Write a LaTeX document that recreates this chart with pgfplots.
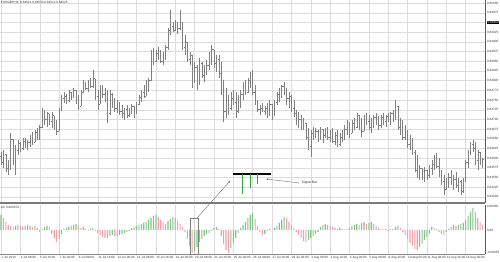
\documentclass[border=0pt]{standalone}
\usepackage{pgfplots}
\pgfplotsset{compat=1.18}
\usepackage{pgfplotstable}
\usetikzlibrary{arrows.meta}
\usepackage{fontspec}
\setmainfont{Liberation Sans}
\definecolor{barcol}{RGB}{128,128,128}
\definecolor{gridcol}{RGB}{220,220,220}
\definecolor{axcol}{RGB}{90,90,90}
\definecolor{acgreen}{RGB}{130,195,135}
\definecolor{acred}{RGB}{240,160,170}
\definecolor{siggreen}{RGB}{40,170,60}
\pgfdeclareplotmark{otick}{\pgfpathmoveto{\pgfpoint{-0.9pt}{0pt}}\pgfpathlineto{\pgfpoint{0pt}{0pt}}\pgfusepathqstroke}
\pgfdeclareplotmark{ctick}{\pgfpathmoveto{\pgfpoint{0pt}{0pt}}\pgfpathlineto{\pgfpoint{0.9pt}{0pt}}\pgfusepathqstroke}
% OHLC in pips above 0.84500
\pgfplotstableread{
i H L O C
0 11.6 8.2 10.5 9.0
1 12.1 7.5 9.0 11.0
2 10.8 6.4 11.0 7.5
3 9.5 5.7 7.5 8.5
4 16.5 6.9 8.5 15.0
5 14.7 8.2 15.0 9.5
6 13.4 5.7 9.5 12.0
7 14.7 10.8 12.0 13.8
8 14.2 11.6 13.8 12.5
9 15.2 12.1 12.5 14.5
10 15.2 12.6 14.5 13.5
11 14.7 12.1 13.5 14.0
12 16.0 12.9 14.0 15.5
13 16.7 13.4 15.5 14.2
14 17.3 14.2 14.2 16.8
15 17.8 14.7 16.8 15.5
16 18.6 14.7 15.5 18.0
17 22.9 17.8 18.0 22.0
18 22.4 18.6 22.0 20.0
19 21.9 18.0 20.0 21.5
20 21.1 18.6 21.5 19.5
21 21.9 17.8 19.5 21.0
22 20.3 17.3 21.0 18.0
23 19.8 16.0 18.0 17.0
24 22.9 18.6 17.0 22.5
25 26.3 22.4 22.5 25.5
26 27.1 24.2 25.5 26.0
27 26.5 24.0 26.0 25.0
28 27.6 24.5 25.0 27.0
29 27.1 25.0 27.0 25.8
30 28.1 25.5 25.8 27.5
31 27.6 24.0 27.5 25.0
32 26.3 22.4 25.0 23.5
33 27.6 23.7 23.5 27.0
34 30.2 27.1 27.0 29.5
35 29.6 27.6 29.5 28.0
36 30.2 27.1 28.0 29.8
37 30.7 28.1 29.8 28.5
38 32.7 28.1 28.5 30.5
39 30.2 25.0 30.5 26.0
40 27.6 22.4 26.0 24.0
41 28.9 25.0 24.0 28.0
42 28.9 25.5 28.0 26.5
43 28.1 24.5 26.5 27.5
44 26.3 19.0 27.5 21.5
45 27.6 21.1 21.5 26.5
46 26.8 22.9 26.5 24.0
47 25.5 21.9 24.0 23.0
48 25.0 21.6 23.0 24.5
49 24.5 21.1 24.5 22.0
50 23.7 20.3 22.0 21.5
51 22.9 19.8 21.5 22.5
52 23.7 20.3 22.5 21.0
53 22.9 20.9 21.0 22.0
54 24.0 21.4 22.0 23.5
55 23.5 20.3 23.5 21.5
56 24.5 21.9 21.5 24.0
57 26.3 23.7 24.0 25.8
58 27.6 24.5 25.8 27.0
59 28.9 25.5 27.0 26.0
60 30.2 26.3 26.0 29.5
61 30.7 27.1 29.5 30.0
62 37.9 30.2 30.0 37.0
63 38.4 34.0 37.0 35.0
64 37.9 34.8 35.0 37.0
65 38.7 35.3 37.0 36.0
66 37.9 34.5 36.0 35.0
67 37.4 34.0 35.0 36.5
68 39.2 35.3 36.5 38.5
69 43.6 37.9 38.5 43.0
70 48.2 41.8 43.0 44.0
71 45.1 42.5 44.0 43.0
72 45.6 43.1 43.0 45.0
73 45.1 42.0 45.0 43.5
74 48.2 43.1 43.5 45.0
75 43.6 37.9 45.0 38.5
76 41.8 36.6 38.5 40.0
77 37.9 34.8 40.0 35.5
78 37.4 34.0 35.5 36.5
79 35.3 28.1 36.5 29.5
80 34.8 30.2 29.5 33.5
81 34.0 27.6 33.5 29.0
82 35.8 31.5 29.0 34.5
83 34.8 30.7 34.5 31.5
84 34.0 29.6 31.5 33.0
85 35.3 31.5 33.0 34.0
86 37.4 32.7 34.0 36.5
87 39.2 34.0 36.5 38.0
88 37.9 33.3 38.0 34.5
89 36.6 32.2 34.5 35.5
90 36.6 30.7 35.5 32.0
91 34.8 26.3 32.0 28.0
92 30.2 19.3 28.0 22.0
93 28.1 20.3 22.0 26.0
94 26.3 21.1 26.0 23.0
95 27.1 22.4 23.0 25.5
96 27.6 23.7 25.5 24.5
97 27.1 20.3 24.5 22.0
98 26.3 21.9 22.0 25.0
99 27.6 22.9 25.0 26.5
100 29.6 25.0 26.5 28.5
101 30.2 26.3 28.5 27.0
102 30.7 27.1 27.0 30.0
103 32.2 28.1 30.0 31.0
104 32.7 26.3 31.0 27.0
105 28.9 23.7 27.0 24.5
106 25.0 21.9 24.5 22.5
107 23.7 21.1 22.5 23.0
108 24.2 21.9 23.0 22.2
109 23.5 21.1 22.2 22.8
110 24.2 20.3 22.8 21.5
111 25.0 20.9 21.5 24.0
112 23.7 19.8 24.0 21.0
113 25.0 21.9 21.0 24.5
114 27.1 23.7 24.5 26.5
115 28.1 24.5 26.5 27.5
116 28.9 25.5 27.5 28.5
117 29.6 26.3 28.5 27.0
118 28.1 23.7 27.0 25.5
119 27.1 22.9 25.5 26.0
120 26.3 21.9 26.0 23.0
121 25.0 20.6 23.0 21.5
122 22.4 18.6 21.5 19.5
123 21.9 17.8 19.5 20.0
124 21.1 17.3 20.0 18.0
125 20.3 17.3 18.0 19.0
126 19.0 14.7 19.0 15.5
127 17.8 12.1 15.5 13.0
128 17.3 10.3 13.0 16.5
129 18.0 14.7 16.5 15.5
130 17.8 15.2 15.5 17.0
131 17.3 14.2 17.0 15.0
132 18.0 14.7 15.0 17.5
133 17.3 13.9 17.5 16.0
134 17.8 15.2 16.0 16.8
135 18.0 14.7 16.8 15.5
136 17.3 14.2 15.5 16.5
137 17.8 13.9 16.5 14.5
138 16.7 13.4 14.5 15.8
139 17.3 12.9 15.8 13.5
140 16.5 13.4 13.5 15.5
141 17.3 14.2 15.5 16.8
142 18.6 14.7 16.8 17.5
143 19.8 16.0 17.5 19.0
144 19.3 15.2 19.0 16.5
145 19.8 16.7 16.5 19.0
146 20.3 17.3 19.0 18.0
147 21.6 17.8 18.0 21.0
148 21.1 17.3 21.0 19.0
149 20.3 15.5 19.0 17.0
150 21.1 17.3 17.0 20.5
151 21.6 18.6 20.5 19.5
152 21.1 17.3 19.5 18.0
153 20.3 16.5 18.0 19.5
154 21.1 17.8 19.5 20.5
155 21.6 18.6 20.5 19.0
156 20.9 17.3 19.0 18.5
157 21.1 17.8 18.5 20.5
158 21.6 18.6 20.5 19.5
159 21.1 18.0 19.5 20.8
160 21.6 19.3 20.8 20.0
161 21.9 18.6 20.0 21.5
162 22.4 19.3 21.5 21.0
163 25.0 19.8 21.0 23.5
164 22.4 17.3 23.5 18.0
165 20.3 16.0 18.0 19.0
166 19.8 14.7 19.0 15.5
167 18.6 14.7 15.5 17.0
168 17.3 12.6 17.0 13.5
169 16.0 12.1 13.5 14.5
170 15.2 10.8 14.5 11.5
171 12.1 6.4 11.5 7.0
172 10.8 4.9 7.0 6.0
173 8.2 4.4 6.0 7.5
174 7.5 4.4 7.5 5.0
175 7.7 3.8 5.0 7.0
176 6.9 4.4 7.0 5.5
177 8.2 4.9 5.5 7.5
178 9.5 5.7 7.5 8.5
179 10.8 6.9 8.5 10.0
180 11.3 7.5 10.0 8.0
181 10.0 5.1 8.0 6.0
182 6.9 3.1 6.0 4.0
183 5.7 0.5 4.0 2.0
184 4.9 1.8 2.0 4.0
185 6.2 2.3 4.0 5.0
186 6.9 3.1 5.0 3.5
187 5.7 1.8 3.5 4.5
188 6.4 2.3 4.5 3.0
189 4.9 1.3 3.0 4.0
190 4.4 0.5 4.0 1.5
191 4.9 1.0 1.5 4.0
192 9.5 4.4 4.0 9.0
193 12.1 7.5 9.0 11.5
194 14.2 10.8 11.5 13.5
195 14.7 11.6 13.5 12.5
196 14.2 8.2 12.5 9.5
197 12.1 6.9 9.5 11.5
198 10.8 8.2 11.5 9.0
199 10.0 7.5 9.0 9.8
}\ohlc
% Accelerator oscillator (units of 0.000025), c=1 rising (green), c=0 falling (red)
\pgfplotstableread{
i v c
0 15 1
1 12 0
2 8 0
3 5 0
4 4 0
5 3 0
6 4 1
7 5 1
8 4 0
9 3 0
10 4 1
11 5 1
12 4 0
13 3 0
14 4 1
15 2 0
16 -2 0
17 1 1
18 3 1
19 4 1
20 3 0
21 -4 0
22 -8 0
23 -12 0
24 -9 1
25 -4 1
26 1 1
27 2 1
28 3 1
29 4 1
30 5 1
31 6 1
32 4 0
33 2 0
34 3 1
35 1 0
36 -1 0
37 1 1
38 2 1
39 -1 0
40 -3 0
41 -5 0
42 -7 0
43 -8 0
44 -8.5 0
45 -6 1
46 -5 1
47 -6 0
48 -6.5 0
49 -5 1
50 -4 1
51 -3 1
52 -2 1
53 -1 1
54 2 1
55 3 1
56 4 1
57 5 1
58 6 1
59 7 1
60 8 1
61 10 1
62 12 1
63 14 1
64 15 1
65 13 0
66 10 0
67 8 0
68 6 0
69 9 1
70 11 1
71 13 1
72 12 0
73 9 0
74 6 0
75 3 0
76 -2 0
77 -9 0
78 -16 0
79 -23 0
80 -21 1
81 -17 1
82 -12 1
83 -9 1
84 -6 1
85 -4 1
86 -3 1
87 -1 1
88 2 1
89 3 1
90 1 0
91 -6 0
92 -14 0
93 -20 0
94 -23 0
95 -18 1
96 -13 1
97 -8 1
98 -3 1
99 2 1
100 5 1
101 8 1
102 12 1
103 15 1
104 17 1
105 11 0
106 4 0
107 -2 0
108 -5 0
109 -4 1
110 -1 1
111 1 1
112 0 0
113 2 1
114 4 1
115 7 1
116 10 1
117 13 1
118 12 0
119 8 0
120 5 0
121 2 0
122 -2 0
123 -5 0
124 -8 0
125 -11 0
126 -12 0
127 -10 1
128 -8 1
129 -6 1
130 -4 1
131 -2 1
132 3 1
133 5 1
134 6 1
135 5 0
136 4 0
137 3 0
138 2 0
139 1 0
140 2 1
141 1 0
142 0.5 0
143 1 1
144 2 1
145 4 1
146 5 1
147 6 1
148 5 0
149 7 1
150 8 1
151 6 0
152 7 1
153 8 1
154 6 0
155 4 0
156 2 0
157 1 0
158 0.5 0
159 1 1
160 -1 0
161 0.5 1
162 1 1
163 3 1
164 4 1
165 2 0
166 -2 0
167 -5 0
168 -9 0
169 -13 0
170 -16 0
171 -19 0
172 -20 0
173 -17 1
174 -14 1
175 -10 1
176 -7 1
177 -4 1
178 3 1
179 2 0
180 1 0
181 -2 0
182 -4 0
183 -5 0
184 -2 1
185 1 1
186 3 1
187 5 1
188 4 0
189 5 1
190 6 1
191 7 1
192 10 1
193 14 1
194 18 1
195 22 1
196 18 0
197 12 0
198 8 0
199 5 0
}\actable
\begin{document}
\begin{tikzpicture}[x=1pt,y=1pt]
\pgfplotsset{
  every axis/.append style={
    scale only axis, width=485pt,
    xmin=-0.4, xmax=200,
    axis line style={draw=none},
    tick label style={font=\fontsize{3.1}{3.4}\selectfont, text=black!80},
    tick align=outside, major tick length=1.3pt,
    tick style={axcol, line width=0.3pt},
    major grid style={gridcol, line width=0.35pt},
    ytick pos=right, yticklabel pos=right,
    xtick pos=bottom,
    yticklabel style={anchor=west, inner xsep=0.6pt},
  }
}
% ---------- price panel ----------
\begin{axis}[
  at={(0pt,59pt)}, anchor=south west, height=203pt,
  ymin=-1.57, ymax=50.8,
  xtick={0,8,...,192}, xticklabels={}, xtick style={draw=none},
  ytick={0,2.5,...,50},
  yticklabels={0.84500,0.84525,0.84550,0.84575,0.84600,0.84625,0.84650,0.84675,0.84700,0.84725,0.84750,0.84775,0.84800,0.84825,0.84850,0.84875,0.84900,0.84925,{\setlength{\fboxsep}{0.5pt}\colorbox{black}{\textcolor{white}{0.84950}}},0.84975,0.85000},
  grid=major, clip=false,
]
\addplot[only marks, mark=otick, barcol, mark options={line width=0.4pt},
  error bars/.cd, y dir=both, y explicit, error mark=none,
  error bar style={barcol, line width=0.45pt}]
  table[x=i, y=O, y error plus expr=\thisrow{H}-\thisrow{O}, y error minus expr=\thisrow{O}-\thisrow{L}] {\ohlc};
\addplot[only marks, mark=ctick, barcol, mark options={line width=0.4pt}]
  table[x=i, y=C] {\ohlc};
\draw[axcol, line width=0.6pt] (rel axis cs:1,0) -- (rel axis cs:1,1);
\draw[axcol!80, line width=1.1pt] (rel axis cs:0,0) -- (rel axis cs:1,0);
\node[anchor=north west, inner sep=0.8pt, font=\fontsize{3.1}{3.4}\selectfont, text=black!80] at (rel axis cs:0,1) {EURGBP,H4\ \ 0.84521 0.84530 0.84512 0.84525};
\end{axis}
% ---------- AC panel ----------
\begin{axis}[
  at={(0pt,8pt)}, anchor=south west, height=49pt,
  ymin=-24, ymax=25,
  ytick={-22,0,24}, yticklabels={-0.00055,0.00,0.00060},
  xtick={0,8,...,192},
  xticklabels={1 Jul 2016,4 Jul 08:00,5 Jul 16:00,7 Jul 00:00,8 Jul 08:00,11 Jul 16:00,13 Jul 00:00,14 Jul 08:00,15 Jul 16:00,19 Jul 00:00,20 Jul 08:00,21 Jul 16:00,25 Jul 00:00,26 Jul 08:00,27 Jul 16:00,29 Jul 00:00,1 Aug 08:00,2 Aug 16:00,4 Aug 00:00,5 Aug 08:00,8 Aug 16:00,10 Aug 00:00,11 Aug 08:00,12 Aug 16:00,16 Aug 00:00},
  xticklabel style={anchor=north west, inner xsep=0.3pt, inner ysep=0.8pt},
  xmajorgrids, clip=false,
]
\addplot[ybar, bar width=1.1pt, bar shift=0pt, fill=acgreen, draw=none,
  restrict expr to domain={\thisrow{c}}{0.5:1.5}] table[x=i, y=v] {\actable};
\addplot[ybar, bar width=1.1pt, bar shift=0pt, fill=acred, draw=none,
  restrict expr to domain={\thisrow{c}}{-0.5:0.5}] table[x=i, y=v] {\actable};
\draw[axcol, line width=0.6pt] (rel axis cs:1,0) -- (rel axis cs:1,1);
\draw[axcol!70, line width=0.4pt] (rel axis cs:0,0) -- (rel axis cs:1,0);
\node[anchor=north west, inner sep=0.8pt, font=\fontsize{3.1}{3.4}\selectfont, text=black!80] at (rel axis cs:0,1) {AC 0.000079};
% annotations
\draw[gray, line width=0.4pt] (78.3,-24) rectangle (81.7,12);
\draw[gray!80!black, line width=0.35pt, -{Stealth[length=2.2pt,width=1.8pt]}] (81,12) -- (94.6,49);
\draw[black, line width=1.2pt] (95.9,56) -- (111.6,56);
\draw[siggreen, line width=1pt] (100,56) -- (100,36);
\draw[siggreen, line width=1pt] (102.9,56) -- (102.9,42);
\draw[siggreen, line width=1pt] (105.8,56) -- (105.8,46);
\draw[gray!80!black, line width=0.35pt, -{Stealth[length=2.2pt,width=1.8pt]}] (123.3,47) -- (109.6,51);
\node[anchor=west, inner sep=0.6pt, font=\fontsize{3.3}{3.6}\selectfont, text=black!85] at (124,47) {Signal Bar};
\end{axis}
\pgfresetboundingbox
\path[use as bounding box] (0,0) rectangle (500pt,262pt);
\end{tikzpicture}
\end{document}
